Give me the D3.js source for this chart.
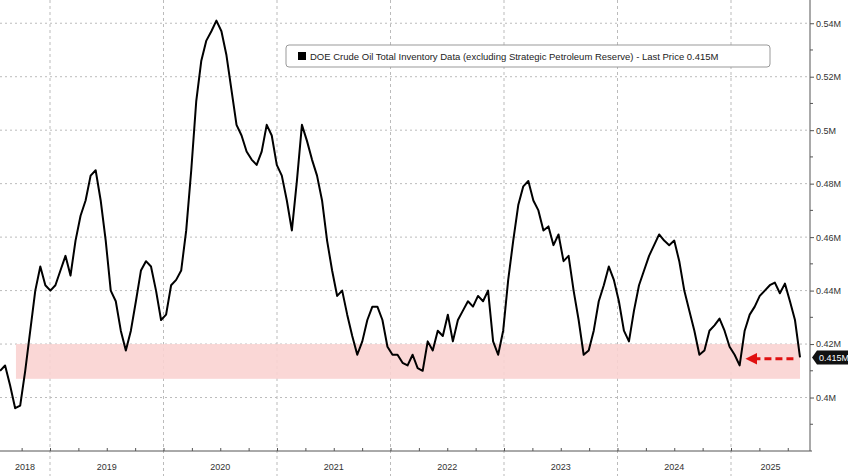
<!DOCTYPE html>
<html><head><meta charset="utf-8">
<script src="https://cdn.jsdelivr.net/npm/d3@7"></script>
<style>body{margin:0;background:#fff}svg{display:block;font-family:"Liberation Sans",Arial,sans-serif}</style>
</head><body><svg id="c" width="848" height="476"></svg>
<script>
const startYear = 2018.56, endYear = 2025.608;
const values = [.410,.412,.4045,.396,.397,.410,.425,.440,.449,.442,.440,.442,.4475,.453,.4456,.4587,.468,.4737,.483,.485,.4737,.4587,.440,.436,.425,.4176,.425,.436,.4475,.451,.449,.440,.429,.431,.442,.444,.4475,.4625,.485,.511,.526,.5335,.537,.541,.537,.528,.515,.502,.498,.492,.489,.487,.492,.502,.498,.487,.483,.4737,.4625,.481,.502,.496,.489,.483,.4737,.4587,.4475,.438,.440,.431,.423,.416,.421,.429,.434,.434,.429,.419,.416,.416,.413,.412,.416,.411,.410,.421,.4176,.425,.423,.431,.421,.429,.4325,.436,.434,.438,.436,.440,.421,.416,.425,.444,.4587,.472,.479,.481,.4737,.470,.4625,.464,.457,.461,.451,.453,.440,.429,.416,.4176,.425,.436,.442,.449,.444,.436,.425,.421,.4325,.442,.4475,.453,.457,.461,.4587,.457,.4587,.451,.440,.4325,.425,.416,.4176,.425,.427,.4295,.425,.419,.416,.412,.425,.431,.434,.438,.440,.442,.443,.439,.4426,.436,.429,.415];
const years = [2018,2019,2020,2021,2022,2023,2024,2025];
const yTicks = [0.40,0.42,0.44,0.46,0.48,0.50,0.52,0.54];
const bandRange = [0.407,0.42];
const lastPrice = 0.415;
const legendText = "DOE Crude Oil Total Inventory Data (excluding Strategic Petroleum Reserve) - Last Price 0.415M";

const n = values.length;
const dates = values.map((v,i)=> startYear + i*(endYear-startYear)/(n-1));
const svg = d3.select("#c");
const x = d3.scaleLinear().domain([2019 - 50/113.5, 2019 + 760/113.5]).range([0,810]);
const y = d3.scaleLinear().domain([0.38,0.55]).range([451,-3.5]);
const fmt = v => (+v.toFixed(3))+"M";

svg.append("g").selectAll("line").data(yTicks).join("line")
 .attr("x1",0).attr("x2",810).attr("y1",d=>y(d)).attr("y2",d=>y(d))
 .attr("stroke","#bbb").attr("stroke-dasharray","2,3");
svg.append("g").selectAll("line").data(years.slice(1)).join("line")
 .attr("x1",d=>x(d)).attr("x2",d=>x(d)).attr("y1",0).attr("y2",476)
 .attr("stroke","#bbb").attr("stroke-dasharray","3,3");
svg.append("rect").attr("x",x(2018.7)).attr("width",800-x(2018.7))
 .attr("y",y(bandRange[1])).attr("height",y(bandRange[0])-y(bandRange[1]))
 .attr("fill","#f9d3d1").attr("opacity",0.9);
svg.append("path").datum(d3.zip(dates,values))
 .attr("d",d3.line().x(d=>x(d[0])).y(d=>y(d[1])))
 .attr("fill","none").attr("stroke","#000").attr("stroke-width",2).attr("stroke-linejoin","round");
svg.append("defs").append("marker").attr("id","ah").attr("viewBox","0 0 10 10").attr("refX",5).attr("refY",5)
 .attr("markerWidth",4).attr("markerHeight",4).attr("orient","auto")
 .append("path").attr("d","M0,0L10,5L0,10z").attr("fill","#e01010");
svg.append("line").attr("x1",x(2025.55)).attr("x2",x(2025.18)).attr("y1",y(0.4145)).attr("y2",y(0.4145))
 .attr("stroke","#e01010").attr("stroke-width",3).attr("stroke-dasharray","7,4").attr("marker-end","url(#ah)");
const ya = d3.axisRight(y).tickValues(yTicks).tickFormat(fmt).tickSize(4);
const gy = svg.append("g").attr("transform","translate(810,0)").call(ya);
gy.select(".domain").attr("d","M0,-5V451").attr("stroke","#555");
gy.selectAll("text").attr("font-size",9).attr("fill","#333").attr("x",6);
gy.selectAll("line").attr("stroke","#555");
svg.append("g").selectAll("line").data(d3.range(0.39,0.55,0.02)).join("line")
 .attr("x1",810).attr("x2",813).attr("y1",d=>y(d)).attr("y2",d=>y(d)).attr("stroke","#555");
const xa = d3.axisBottom(x).tickValues(d3.range(2018.75,2025.7,0.25)).tickFormat("").tickSize(3);
const gx = svg.append("g").attr("transform","translate(0,451)").call(xa);
gx.select(".domain").attr("d","M0,0H812").attr("stroke","#555");
gx.selectAll("line").attr("stroke","#555").attr("transform","translate(0,-3)");
svg.append("g").selectAll("text").data(years).join("text")
 .attr("x",d=>(Math.max(0,x(d))+Math.min(810,x(d+1)))/2).attr("y",470)
 .attr("text-anchor","middle").attr("font-size",9).attr("fill","#333").text(d=>d);
const lp = svg.append("g").attr("transform",`translate(812,${y(lastPrice)})`);
lp.append("path").attr("d","M0,0L5,-7H36V7H5Z").attr("fill","#111");
lp.append("text").attr("x",7).attr("y",3.5).attr("font-size",9).attr("fill","#fff").text(fmt(lastPrice));
const lg = svg.append("g").attr("transform","translate(286,45)");
lg.append("rect").attr("width",484).attr("height",22).attr("rx",3).attr("fill","#fff").attr("stroke","#999");
lg.append("rect").attr("x",12).attr("y",7).attr("width",8).attr("height",8).attr("fill","#000");
lg.append("text").attr("x",24).attr("y",15).attr("font-size",9.5).attr("fill","#222").text(legendText);
</script></body></html>
